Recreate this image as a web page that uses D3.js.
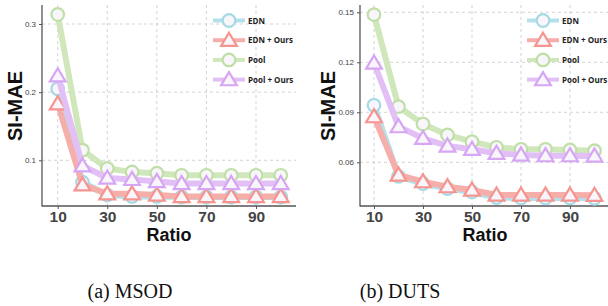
<!DOCTYPE html>
<html>
<head>
<meta charset="utf-8">
<script src="https://cdn.jsdelivr.net/npm/d3@7"></script>
<style>
  body { margin: 0; background: #fff; }
  svg { display: block; }
  .grid line { stroke: #c8c8c8; stroke-dasharray: 3,3; stroke-width: 0.8; }
  .axis path, .axis line { stroke: #555; }
</style>
</head>
<body>
<svg id="chart" width="608" height="306"></svg>
<script>
var ratios = [10, 20, 30, 40, 50, 60, 70, 80, 90, 100];
var xTicks = [10, 30, 50, 70, 90];

// MSOD
var msodEDN      = [0.205, 0.068, 0.049, 0.047, 0.047, 0.046, 0.046, 0.046, 0.046, 0.046];
var msodEDNOurs  = [0.183, 0.064, 0.051, 0.051, 0.049, 0.047, 0.047, 0.047, 0.047, 0.047];
var msodPool     = [0.314, 0.115, 0.088, 0.083, 0.081, 0.078, 0.078, 0.078, 0.078, 0.078];
var msodPoolOurs = [0.224, 0.092, 0.074, 0.072, 0.069, 0.066, 0.066, 0.066, 0.066, 0.066];
var msodTicks = [0.1, 0.2, 0.3];

// DUTS
var dutsEDN      = [0.0942, 0.0515, 0.0472, 0.0442, 0.0422, 0.0388, 0.0386, 0.0386, 0.0386, 0.0384];
var dutsEDNOurs  = [0.0874, 0.0524, 0.0484, 0.0454, 0.0434, 0.0404, 0.0404, 0.0404, 0.0404, 0.0402];
var dutsPool     = [0.1486, 0.0934, 0.0830, 0.0764, 0.0724, 0.0690, 0.0678, 0.0678, 0.0674, 0.0670];
var dutsPoolOurs = [0.1196, 0.0814, 0.0744, 0.0698, 0.0678, 0.0654, 0.0644, 0.0640, 0.0640, 0.0638];
var dutsTicks = [0.06, 0.09, 0.12, 0.15];

var seriesNames = ["EDN", "EDN + Ours", "Pool", "Pool + Ours"];
var lineColors = ["#b3e0ea", "#f6aeab", "#cfe7bb", "#e2c0f6"];
var markColors = ["#a4d9e5", "#f6948f", "#c0dfa7", "#d6a5f3"];
var shapes = ["circle", "triangle", "circle", "triangle"];

var svg = d3.select("#chart");

function marker(g, shape, color, cx, cy) {
  if (shape == "circle") {
    g.append("circle").attr("cx", cx).attr("cy", cy).attr("r", 6.3)
      .attr("fill", "#f8f6fb").attr("stroke", color).attr("stroke-width", 2.2);
  } else {
    var s = 7.5;
    g.append("path")
      .attr("d", "M" + cx + "," + (cy - s) + "L" + (cx + s * 1.05) + "," + (cy + s * 0.75) + "L" + (cx - s * 1.05) + "," + (cy + s * 0.75) + "Z")
      .attr("fill", "#f8f6fb").attr("stroke", color).attr("stroke-width", 2.2)
      .attr("stroke-linejoin", "miter");
  }
}

function panel(opt) {
  var x = d3.scaleLinear().domain([10, 90]).range(opt.xr);
  var y = d3.scaleLinear().domain(opt.yd).range(opt.yr);
  var g = svg.append("g");
  var left = opt.left, right = opt.right, top = 5, bottom = 206;

  // grid
  var grid = g.append("g").attr("class", "grid");
  grid.selectAll(".gx").data(xTicks).enter().append("line")
    .attr("x1", function(d){ return x(d); }).attr("x2", function(d){ return x(d); })
    .attr("y1", top).attr("y2", bottom);
  grid.selectAll(".gy").data(opt.ticks).enter().append("line")
    .attr("x1", left).attr("x2", right)
    .attr("y1", function(d){ return y(d); }).attr("y2", function(d){ return y(d); });

  // y axis
  var ya = g.append("g").attr("class", "axis")
    .attr("transform", "translate(" + left + ",0)")
    .call(d3.axisLeft(y).tickValues(opt.ticks).tickSize(3).tickFormat(d3.format(opt.fmt)));
  ya.select(".domain").remove();
  ya.selectAll("text").attr("font-family", "Liberation Sans, Arial, sans-serif")
    .attr("font-size", 8).attr("fill", "#444");
  ya.selectAll("line").attr("stroke", "#888");

  // x axis
  var xa = g.append("g").attr("class", "axis")
    .attr("transform", "translate(0," + bottom + ")")
    .call(d3.axisBottom(x).tickValues(xTicks).tickSize(3).tickFormat(d3.format("d")));
  xa.select(".domain").remove();
  xa.selectAll("line").attr("stroke", "#888");
  xa.selectAll("text").attr("font-family", "Liberation Sans, Arial, sans-serif")
    .attr("font-size", 15.5).attr("font-weight", "bold").attr("fill", "#444")
    .attr("y", 4.5).attr("dy", "0.71em");

  g.append("line").attr("x1", left).attr("x2", left).attr("y1", top).attr("y2", bottom + 0.5)
    .attr("stroke", "#555").attr("stroke-width", 1.3);
  g.append("line").attr("x1", left).attr("x2", right).attr("y1", bottom).attr("y2", bottom)
    .attr("stroke", "#555").attr("stroke-width", 1.3);

  // axis titles
  g.append("text").attr("x", (left + right) / 2).attr("y", 240.5)
    .attr("text-anchor", "middle").attr("font-family", "Liberation Sans, Arial, sans-serif")
    .attr("font-size", 18).attr("font-weight", "bold").attr("fill", "#111").text("Ratio");
  g.append("text").attr("transform", "translate(" + opt.ylabX + ",106) rotate(-90)")
    .attr("text-anchor", "middle").attr("font-family", "Liberation Sans, Arial, sans-serif")
    .attr("font-size", 20).attr("font-weight", "bold").attr("fill", "#111").text("SI-MAE");

  // series
  var line = d3.line().x(function(d, i){ return x(ratios[i]); }).y(function(d){ return y(d); });
  opt.series.forEach(function(vals, k){
    var sg = g.append("g");
    sg.append("path").attr("d", line(vals)).attr("fill", "none")
      .attr("stroke", lineColors[k]).attr("stroke-width", 6).attr("stroke-linejoin", "round");
    vals.forEach(function(v, i){ marker(sg, shapes[k], markColors[k], x(ratios[i]), y(v)); });
  });

  // legend
  var lg = g.append("g");
  seriesNames.forEach(function(name, k){
    var ly = 20.5 + k * 19.7;
    lg.append("line").attr("x1", opt.legX).attr("x2", opt.legX + 32).attr("y1", ly).attr("y2", ly)
      .attr("stroke", lineColors[k]).attr("stroke-width", 4);
    marker(lg, shapes[k], markColors[k], opt.legX + 16, ly);
    lg.append("text").attr("x", opt.legX + 35).attr("y", ly + 3.2)
      .attr("font-family", "Open Sans, sans-serif").attr("font-size", 8)
      .attr("font-weight", "bold").attr("fill", "#222").text(name);
  });

  // caption
  svg.append("text").attr("x", opt.capX).attr("y", 298).attr("text-anchor", "middle")
    .attr("font-family", "Liberation Serif, Times New Roman, serif").attr("font-size", 20)
    .attr("fill", "#111").text(opt.caption);
}

panel({
  xr: [57.7, 256], yd: [0.1, 0.3], yr: [160.3, 24], ticks: msodTicks, fmt: ".1f",
  left: 42, right: 296, ylabX: 22, legX: 213, capX: 130, caption: "(a) MSOD",
  series: [msodEDN, msodEDNOurs, msodPool, msodPoolOurs]
});
panel({
  xr: [374, 570], yd: [0.06, 0.15], yr: [162.3, 12.3], ticks: dutsTicks, fmt: ".2f",
  left: 360, right: 610, ylabX: 335, legX: 527, capX: 400, caption: "(b) DUTS",
  series: [dutsEDN, dutsEDNOurs, dutsPool, dutsPoolOurs]
});
</script>
</body>
</html>
